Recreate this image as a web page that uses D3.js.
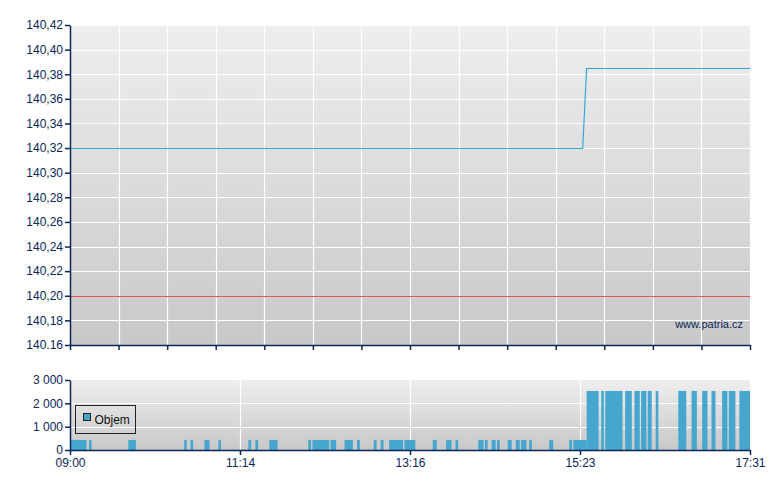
<!DOCTYPE html>
<html>
<head>
<meta charset="utf-8">
<script src="https://cdn.jsdelivr.net/npm/d3@7"></script>
<style>
  body { margin: 0; background: #fff; }
  svg { display: block; font-family: "Liberation Sans", Arial, sans-serif; }
</style>
</head>
<body>
<div id="chart"></div>
<script>
// cena
const priceTicks = [140.16, 140.18, 140.20, 140.22, 140.24, 140.26, 140.28, 140.30, 140.32, 140.34, 140.36, 140.38, 140.40, 140.42];
const priceTickLabels = ["140.16", "140,18", "140,20", "140,22", "140,24", "140,26", "140,28", "140,30", "140,32", "140,34", "140,36", "140,38", "140,40", "140,42"];
const priceTimes = ["09:00", "15:25", "15:28", "17:31"];
const priceValues = [140.32, 140.32, 140.385, 140.385];
const refPrice = 140.20;

// casova osa
const timeTicks = ["09:00", "11:14", "13:16", "15:23", "17:31"];

// objem
const volStart = ["09:00", "09:15", "09:46", "10:30", "10:35", "10:46", "10:57", "11:20", "11:25", "11:35",
  "12:03", "12:06", "12:19", "12:29", "12:38", "12:50", "12:55", "13:01", "13:12", "13:33",
  "13:43", "13:50", "14:07", "14:12", "14:17", "14:21", "14:29", "14:35", "14:39", "14:45",
  "15:00", "15:15", "15:18", "15:28", "15:39", "15:42", "15:57", "16:04", "16:09", "16:14",
  "16:20", "16:37", "16:47", "16:55", "17:02", "17:10", "17:15", "17:23"];
const volEnd = ["09:13", "09:17", "09:52", "10:32", "10:37", "10:50", "10:59", "11:22", "11:27", "11:41",
  "12:05", "12:18", "12:23", "12:35", "12:40", "12:52", "12:57", "13:11", "13:20", "13:36",
  "13:47", "13:52", "14:11", "14:14", "14:20", "14:23", "14:32", "14:38", "14:43", "14:47",
  "15:03", "15:17", "15:28", "15:37", "15:41", "15:55", "16:02", "16:08", "16:13", "16:17",
  "16:22", "16:43", "16:51", "16:59", "17:05", "17:14", "17:20", "17:31"];
const volValues = [430, 430, 430, 430, 430, 430, 430, 430, 430, 430,
  430, 430, 430, 430, 430, 430, 430, 430, 430, 430,
  430, 430, 430, 430, 430, 430, 430, 430, 430, 430,
  430, 430, 430, 2530, 2530, 2530, 2530, 2530, 2530, 2530,
  2530, 2530, 2530, 2530, 2530, 2530, 2530, 2530];
const volTicks = [0, 1000, 2000, 3000];
const volTickLabels = ["0", "1 000", "2 000", "3 000"];

const INK = "#0b2657";
const LINE = "#3aa6d8";
const BAR = "#46a6ce";

const toMin = s => { const [h, m] = s.split(":").map(Number); return h * 60 + m; };

const W = 780, H = 490;
const left = 70, plotW = 680;
const top1 = 25, h1 = 320;
const top2 = 380, h2 = 70;

const svg = d3.select("#chart").append("svg").attr("width", W).attr("height", H);

// pozadi - prechod
const defs = svg.append("defs");
const grad = defs.append("linearGradient").attr("id", "bg").attr("x1", 0).attr("y1", 0).attr("x2", 0).attr("y2", 1);
grad.append("stop").attr("offset", "0%").attr("stop-color", "#eeeeee");
grad.append("stop").attr("offset", "100%").attr("stop-color", "#c8c8c8");

// x - po castech linearni
const x = d3.scaleLinear()
  .domain(timeTicks.map(toMin))
  .range(timeTicks.map((d, i) => i * plotW / (timeTicks.length - 1)));
const xGrid = d3.scaleLinear().domain([0, 14]).range([0, plotW]);

// ===== horni graf =====
const g1 = svg.append("g").attr("transform", `translate(${left},${top1})`);
const y1 = d3.scaleLinear().domain([priceTicks[0], priceTicks[priceTicks.length - 1]]).range([h1, 0]);

g1.append("rect").attr("width", plotW).attr("height", h1).attr("fill", "url(#bg)");

g1.append("g").selectAll("line").data(d3.range(1, 15)).join("line")
  .attr("x1", d => Math.round(xGrid(d)) + 0.5).attr("x2", d => Math.round(xGrid(d)) + 0.5)
  .attr("y1", 0).attr("y2", h1)
  .attr("stroke", "#fff").attr("stroke-width", 1.2);
g1.append("g").selectAll("line").data(priceTicks.slice(1)).join("line")
  .attr("x1", 0).attr("x2", plotW)
  .attr("y1", d => Math.round(y1(d)) + 0.5).attr("y2", d => Math.round(y1(d)) + 0.5)
  .attr("stroke", "#fff").attr("stroke-width", 1.2);

// referencni cena
g1.append("line")
  .attr("x1", 0).attr("x2", plotW)
  .attr("y1", Math.round(y1(refPrice)) + 0.5).attr("y2", Math.round(y1(refPrice)) + 0.5)
  .attr("stroke", "#e85454").attr("stroke-width", 1);

g1.append("path")
  .datum(priceTimes.map((t, i) => [toMin(t), priceValues[i]]))
  .attr("fill", "none").attr("stroke", LINE).attr("stroke-width", 1.2)
  .attr("d", d3.line().x(d => x(d[0])).y(d => Math.round(y1(d[1])) + 0.5));

g1.append("g")
  .call(d3.axisLeft(y1).tickValues(priceTicks).tickFormat((d, i) => priceTickLabels[i]).tickSize(5).tickSizeOuter(0))
  .call(a => a.select(".domain").attr("stroke", INK).attr("stroke-width", 1.5))
  .call(a => a.selectAll(".tick line").attr("stroke", INK).attr("stroke-width", 1.5))
  .call(a => a.selectAll("text").attr("fill", INK).attr("font-size", 12).attr("font-family", "Liberation Sans, Arial, sans-serif").attr("x", -7));

g1.append("g").attr("transform", `translate(0,${h1})`)
  .call(d3.axisBottom(xGrid).ticks(14).tickFormat("").tickSize(5).tickSizeOuter(0))
  .call(a => a.select(".domain").attr("stroke", INK).attr("stroke-width", 1.5))
  .call(a => a.selectAll(".tick line").attr("stroke", INK).attr("stroke-width", 1.5));

g1.append("text")
  .attr("x", plotW - 7).attr("y", 303)
  .attr("text-anchor", "end").attr("fill", INK).attr("font-size", 11)
  .text("www.patria.cz");

// ===== dolni graf - objem =====
const g2 = svg.append("g").attr("transform", `translate(${left},${top2})`);
const y2 = d3.scaleLinear().domain([0, 3000]).range([h2, 0]);

g2.append("rect").attr("width", plotW).attr("height", h2).attr("fill", "url(#bg)");

g2.append("g").selectAll("line").data(timeTicks.slice(1, -1)).join("line")
  .attr("x1", d => Math.round(x(toMin(d))) + 0.5).attr("x2", d => Math.round(x(toMin(d))) + 0.5)
  .attr("y1", 0).attr("y2", h2)
  .attr("stroke", "#fff").attr("stroke-width", 1.2);
g2.append("g").selectAll("line").data(volTicks.slice(1, -1)).join("line")
  .attr("x1", 0).attr("x2", plotW)
  .attr("y1", d => Math.round(y2(d)) + 0.5).attr("y2", d => Math.round(y2(d)) + 0.5)
  .attr("stroke", "#fff").attr("stroke-width", 1.2);

g2.append("g").selectAll("rect").data(volValues).join("rect")
  .attr("x", (d, i) => x(toMin(volStart[i])))
  .attr("width", (d, i) => x(toMin(volEnd[i])) - x(toMin(volStart[i])))
  .attr("y", d => y2(d))
  .attr("height", d => h2 - y2(d))
  .attr("fill", BAR);

g2.append("g")
  .call(d3.axisLeft(y2).tickValues(volTicks).tickFormat((d, i) => volTickLabels[i]).tickSize(5).tickSizeOuter(0))
  .call(a => a.select(".domain").attr("stroke", INK).attr("stroke-width", 1.5))
  .call(a => a.selectAll(".tick line").attr("stroke", INK).attr("stroke-width", 1.5))
  .call(a => a.selectAll("text").attr("fill", INK).attr("font-size", 12).attr("font-family", "Liberation Sans, Arial, sans-serif").attr("x", -7));

g2.append("g").attr("transform", `translate(0,${h2})`)
  .call(d3.axisBottom(x).tickValues(timeTicks.map(toMin)).tickFormat((d, i) => timeTicks[i]).tickSize(5).tickSizeOuter(0))
  .call(a => a.select(".domain").attr("stroke", INK).attr("stroke-width", 1.5))
  .call(a => a.selectAll(".tick line").attr("stroke", INK).attr("stroke-width", 1.5))
  .call(a => a.selectAll("text").attr("fill", INK).attr("font-size", 12).attr("font-family", "Liberation Sans, Arial, sans-serif").attr("y", 8));

// legenda
const leg = g2.append("g").attr("transform", "translate(5.5,25.5)");
leg.append("rect").attr("width", 60).attr("height", 28).attr("fill", "none").attr("stroke", "#222");
leg.append("rect").attr("x", 8).attr("y", 8).attr("width", 7).attr("height", 7).attr("fill", BAR).attr("stroke", "#222");
leg.append("text").attr("x", 19).attr("y", 18).attr("fill", "#111").attr("font-size", 12).text("Objem");
</script>
</body>
</html>
